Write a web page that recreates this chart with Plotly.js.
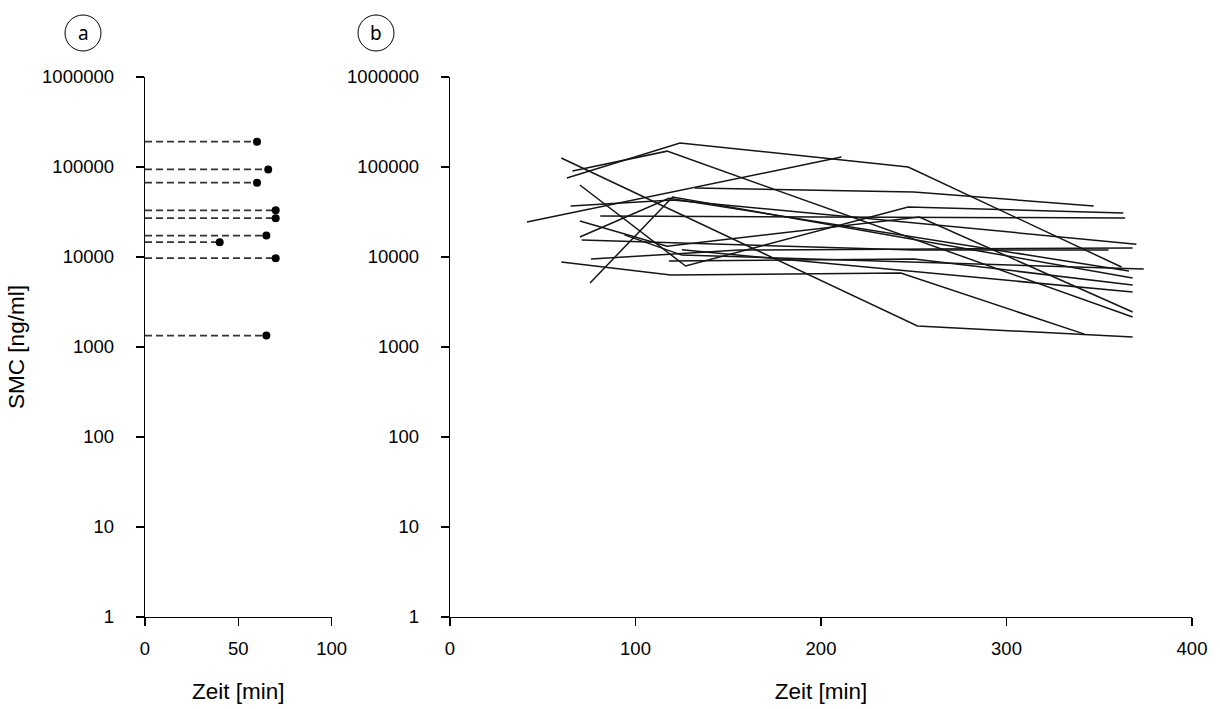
<!DOCTYPE html>
<html>
<head>
<meta charset="utf-8">
<script src="https://cdn.plot.ly/plotly-3.0.1.min.js"></script>
<style>html,body{margin:0;padding:0;background:#fff;}#chart{width:1220px;height:709px;}</style>
</head>
<body>
<div id="chart"></div>
<script>
// Panel a: single measurements (time [min], SMC [ng/ml])
const aTimes  = [60, 66, 60, 70, 70, 65, 40, 70, 65];
const aValues = [191000, 94000, 67000, 33000, 27000, 17300, 14600, 9700, 1340];

// Panel b: serial measurements, one series per patient
const bTimes = [
  [63, 124, 247, 362],
  [66, 117, 368],
  [60, 252, 368],
  [70, 127, 247, 363],
  [41.5, 211],
  [60, 119, 243, 342],
  [132, 250, 347],
  [70, 117, 253, 368],
  [81, 364],
  [65, 120, 370],
  [71, 250, 355],
  [76, 156, 368],
  [75.5, 120, 368],
  [70, 118, 366],
  [94, 125, 374],
  [118, 250, 368],
  [125, 368]
];
const bValues = [
  [75500, 185000, 100000, 7740],
  [90300, 150000, 2150],
  [125900, 1710, 1290],
  [63100, 7940, 35900, 30800],
  [24500, 129000],
  [8800, 6310, 6640, 1390],
  [58500, 52700, 36900],
  [25100, 13200, 27800, 2450],
  [28500, 27100],
  [36900, 43000, 13900],
  [15400, 11950, 11950],
  [9500, 11950, 12600],
  [5140, 46400, 5840],
  [16700, 45000, 6990],
  [17600, 10500, 7360],
  [9000, 9500, 4890],
  [12000, 4080]
];

const yTickVals = [1, 10, 100, 1000, 10000, 100000, 1000000];
const yTickText = ['1', '10', '100', '1000', '10000', '100000', '1000000'];
const xTicksA = [0, 50, 100];
const xTicksB = [0, 100, 200, 300, 400];

const traces = [];
aTimes.forEach((t, i) => {
  traces.push({
    x: [0, t], y: [aValues[i], aValues[i]], type: 'scatter', mode: 'lines',
    line: {color: '#333', width: 1.7, dash: '7px,4px'}, xaxis: 'x', yaxis: 'y',
    hoverinfo: 'skip', showlegend: false
  });
});
traces.push({
  x: aTimes, y: aValues, type: 'scatter', mode: 'markers',
  marker: {color: '#000', size: 8}, xaxis: 'x', yaxis: 'y', showlegend: false
});
bTimes.forEach((ts, i) => {
  traces.push({
    x: ts, y: bValues[i], type: 'scatter', mode: 'lines',
    line: {color: '#151515', width: 1.5}, xaxis: 'x2', yaxis: 'y2', showlegend: false
  });
});

const W = 1220, H = 709;
const yDom = [1 - 617 / H, 1 - 77 / H];
const FAM = '"Liberation Sans", Arial, sans-serif';
const tickFont = {family: FAM, size: 18.5, color: '#000'};
const titleFont = {family: FAM, size: 22.5, color: '#000'};

function yAxis(anchor, withTitle) {
  const ax = {
    type: 'log', range: [0, 6], domain: yDom, anchor: anchor,
    tickvals: yTickVals, ticktext: yTickText,
    showline: true, linecolor: '#000', linewidth: 1.2,
    ticks: 'outside', ticklen: 8, tickwidth: 1.2, tickcolor: '#000',
    showgrid: false, zeroline: false, tickfont: tickFont, ticklabelstandoff: 18
  };
  if (withTitle) ax.title = {text: 'SMC [ng/ml]', font: titleFont, standoff: 11};
  return ax;
}
function xAxis(dom, range, ticks, anchor) {
  return {
    domain: dom, range: range, anchor: anchor, tickvals: ticks,
    showline: true, linecolor: '#000', linewidth: 1.2,
    ticks: 'outside', ticklen: 8, tickwidth: 1.2, tickcolor: '#000',
    showgrid: false, zeroline: false, tickfont: tickFont, ticklabelstandoff: 7,
    title: {text: 'Zeit [min]', font: titleFont, standoff: 24}
  };
}

const layout = {
  width: W, height: H, margin: {l: 0, r: 0, t: 0, b: 0},
  paper_bgcolor: '#fff', plot_bgcolor: '#fff', showlegend: false,
  xaxis: xAxis([145 / W, 331.7 / W], [0, 100], xTicksA, 'y'),
  yaxis: yAxis('x', true),
  xaxis2: xAxis([450 / W, 1192 / W], [0, 400], xTicksB, 'y2'),
  yaxis2: yAxis('x2', false),
  shapes: [
    {type: 'circle', xref: 'paper', yref: 'paper', x0: 65 / W, x1: 101 / W, y0: 1 - 51 / H, y1: 1 - 15 / H, line: {color: '#000', width: 1}},
    {type: 'circle', xref: 'paper', yref: 'paper', x0: 358 / W, x1: 394 / W, y0: 1 - 51 / H, y1: 1 - 15 / H, line: {color: '#000', width: 1}}
  ],
  annotations: [
    {text: 'a', xref: 'paper', yref: 'paper', x: 83 / W, y: 1 - 33 / H, showarrow: false, xanchor: 'center', yanchor: 'middle', font: {family: 'Noto Sans, sans-serif', size: 19, color: '#000'}},
    {text: 'b', xref: 'paper', yref: 'paper', x: 376 / W, y: 1 - 33 / H, showarrow: false, xanchor: 'center', yanchor: 'middle', font: {family: 'Noto Sans, sans-serif', size: 19, color: '#000'}}
  ]
};

Plotly.newPlot('chart', traces, layout, {staticPlot: true, displayModeBar: false});
</script>
</body>
</html>
